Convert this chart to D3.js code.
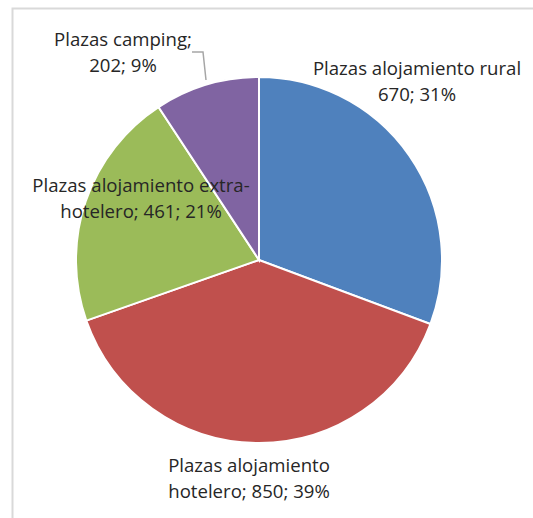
<!DOCTYPE html>
<html lang="es">
  <head>
    <meta charset="utf-8">
    <title>Plazas</title>
    <style>
      body { margin: 0; background: #fff; }
      svg text { font-family: "Open Sans", sans-serif; font-size: 18.6px; fill: #262626; }
    </style>
    <script src="https://cdn.jsdelivr.net/npm/d3@7"></script>
  </head>
  <body>
    <svg id="chart" width="533" height="518"></svg>
    <script>
      // data
      var categories = ["Plazas alojamiento rural", "Plazas alojamiento hotelero",
                        "Plazas alojamiento extra-hotelero", "Plazas camping"];
      var values = [670, 850, 461, 202];
      var colors = ["#4F81BD", "#C0504D", "#9BBB59", "#8064A2"];

      // label lines as Excel wrapped them
      var labelLines = [
        ["Plazas alojamiento rural", "670; 31%"],
        ["Plazas alojamiento", "hotelero; 850; 39%"],
        ["Plazas alojamiento extra-", "hotelero; 461; 21%"],
        ["Plazas camping;", "202; 9%"]
      ];
      // label anchor (first baseline), relative to the pie centre
      var labelPos = [[158, -185], [-10, 212], [-118, -68], [-136, -214]];

      var cx = 259, cy = 260, r = 183;
      var svg = d3.select("#chart");

      // chart frame (cropped at right/bottom)
      svg.append("rect")
        .attr("x", 12.5).attr("y", 8.5)
        .attr("width", 600).attr("height", 600)
        .style("fill", "none").style("stroke", "#d9d9d9").style("stroke-width", 2);

      var pie = d3.pie().sort(null).value(function(d) { return d; });
      var arc = d3.arc().innerRadius(0).outerRadius(r);

      var g = svg.append("g").attr("transform", "translate(" + cx + "," + cy + ")");
      g.selectAll("path").data(pie(values)).enter()
        .append("path")
        .attr("d", arc)
        .style("fill", function(d, i) { return colors[i]; })
        .style("stroke", "#fff")
        .style("stroke-width", 2);

      // leader line for camping
      g.append("polyline")
        .attr("points", [[-67, -208], [-56, -208], [-53, -180]].join(" "))
        .style("fill", "none").style("stroke", "#a6a6a6").style("stroke-width", 1.5);

      var labels = g.selectAll("text.lbl").data(labelLines).enter()
        .append("text")
        .attr("class", "lbl")
        .attr("text-anchor", "middle")
        .attr("transform", function(d, i) {
          return "translate(" + labelPos[i][0] + "," + labelPos[i][1] + ")";
        });
      labels.selectAll("tspan").data(function(d) { return d; }).enter()
        .append("tspan")
        .attr("x", 0)
        .attr("y", function(d, j) { return j * 25.5; })
        .text(function(d) { return d; });
    </script>
  </body>
</html>
